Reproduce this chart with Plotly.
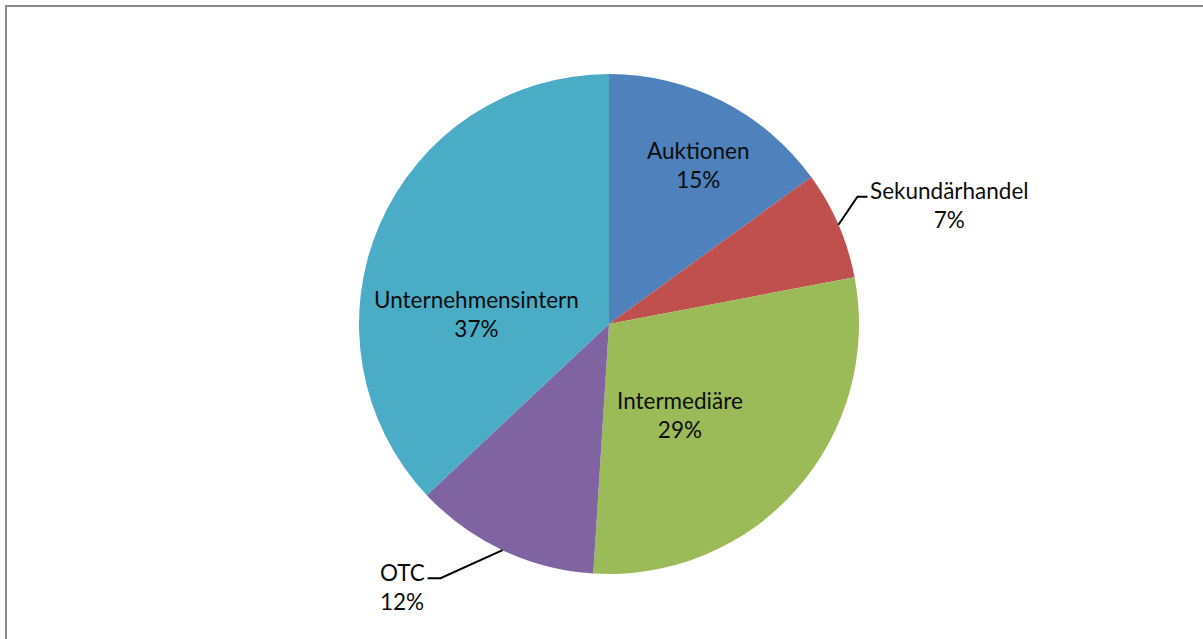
import math
import plotly.graph_objects as go

# Shares of trading volume by channel
categories = ["Auktionen", "Sekundärhandel", "Intermediäre", "OTC", "Unternehmensintern"]
shares = [15, 7, 29, 12, 37]
colors = ["#4F81BD", "#C0504D", "#9BBB59", "#8064A2", "#4BACC6"]

W, H = 1203, 639
CX, CY, R = 609, 324, 250  # pie centre and radius in pixels

def px(x):
    return x / W

def py(y):
    return 1 - y / H

fig = go.Figure(
    go.Pie(
        labels=categories,
        values=shares,
        sort=False,
        direction="clockwise",
        rotation=0,
        marker=dict(colors=colors, line=dict(width=0)),
        textinfo="none",
        hoverinfo="label+percent",
        showlegend=False,
        domain=dict(x=[px(CX - R), px(CX + R)], y=[py(CY + R), py(CY - R)]),
    )
)

total = sum(shares)
mid_angles = []
acc = 0
for v in shares:
    mid_angles.append((acc + v / 2) / total * 360)
    acc += v

def polar(angle_deg, r):
    a = math.radians(angle_deg)
    return CX + r * math.sin(a), CY - r * math.cos(a)

label_font = dict(family="Lato, Calibri, sans-serif", size=22.5, color="#0d0d0d")

# Labels placed inside their slices: (radius factor, angle shift)
inside = {
    "Auktionen": (0.73, 2.2),
    "Intermediäre": (0.46, 10.6),
    "Unternehmensintern": (0.53, -19.0),
}
# Labels outside with leader lines: (elbow offset, horizontal run)
outside = {
    "Sekundärhandel": ((19, -28), 10),
    "OTC": ((-62, 28), -13),
}

annotations = []
shapes = []
for name, v, ang in zip(categories, shares, mid_angles):
    pct = round(v / total * 100)
    text = f"{name}<br>{pct}%"
    if name in inside:
        k, da = inside[name]
        x, y = polar(ang + da, k * R)
        annotations.append(dict(
            x=px(x), y=py(y), xref="paper", yref="paper", text=text,
            showarrow=False, align="center", xanchor="center", yanchor="middle",
            font=label_font,
        ))
    else:
        (ox, oy), run = outside[name]
        ex, ey = polar(ang, R)
        bx, by = ex + ox, ey + oy
        tx = bx + run
        path = f"M {px(ex)} {py(ey)} L {px(bx)} {py(by)} L {px(tx)} {py(by)}"
        shapes.append(dict(type="path", xref="paper", yref="paper", path=path,
                           line=dict(color="#000000", width=2)))
        if run > 0:
            annotations.append(dict(
                x=px(tx + 1), y=py(by + 8), xref="paper", yref="paper", text=text,
                showarrow=False, align="center", xanchor="left", yanchor="middle",
                font=label_font,
            ))
        else:
            annotations.append(dict(
                x=px(tx - 1), y=py(by + 9), xref="paper", yref="paper", text=text,
                showarrow=False, align="left", xanchor="right", yanchor="middle",
                font=label_font,
            ))

# Chart frame
shapes.append(dict(type="rect", xref="paper", yref="paper",
                   x0=px(6), y0=py(660), x1=px(1230), y1=py(6),
                   line=dict(color="#8C8C8C", width=2)))

fig.update_layout(
    width=W, height=H,
    margin=dict(l=0, r=0, t=0, b=0),
    paper_bgcolor="white",
    plot_bgcolor="white",
    annotations=annotations,
    shapes=shapes,
)

fig.write_html("out.html")
